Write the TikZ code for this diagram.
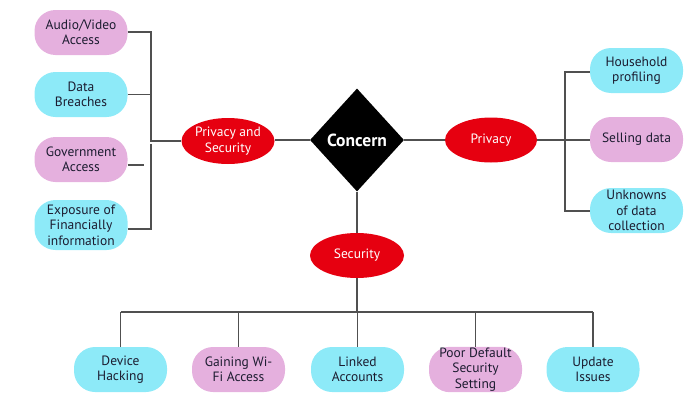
\documentclass[tikz,border=0pt]{standalone}
\usepackage{fontspec}
\setmainfont{PT Sans}
\usetikzlibrary{shapes.geometric}
\definecolor{pinkbox}{HTML}{E5B0DE}
\definecolor{cyanbox}{HTML}{8DEAF8}
\definecolor{redoval}{HTML}{E60010}
\definecolor{wire}{HTML}{505050}
\definecolor{ink}{HTML}{1C1C30}
\tikzset{
  pill/.style={rectangle, rounded corners=21pt, minimum width=93pt, minimum height=45pt,
    inner sep=1pt, align=center, text=ink, font=\fontsize{13.5}{15.5}\selectfont},
  pinkpill/.style={pill, fill=pinkbox},
  cyanpill/.style={pill, fill=cyanbox},
  topic/.style={ellipse, fill=redoval, text=white, minimum width=93pt, minimum height=46pt,
    inner sep=0pt, align=center, font=\fontsize{13.5}{15.5}\selectfont},
  hub/.style={diamond, fill=black, text=white, minimum width=94pt, minimum height=103pt,
    inner sep=0pt},
  link/.style={draw=wire, line width=1.1pt}
}
\begin{document}
\begin{tikzpicture}[x=1pt,y=-1pt]
\useasboundingbox (0,0) rectangle (695,399);

% central hub and the three topics
\node[hub] (concern) at (357,140) {};
\node[text=white, font=\fontsize{17.5}{20}\bfseries\selectfont] (concernlabel) at (357,140) {Concern};
\node[topic] (ps) at (228,141) {Privacy and\\Security};
\node[topic, minimum width=92pt, minimum height=45pt] (privacy) at (491,140) {Privacy};
\node[topic, minimum width=94pt, minimum height=45pt] (security) at (357,255.5) {Security};

% privacy and security items
\node[pinkpill] (audio) at (81,32.5) {Audio/Video\\Access};
\node[cyanpill] (breach) at (81,94.5) {Data\\Breaches};
\node[pinkpill] (gov) at (81,159.5) {Government\\Access};
\node[cyanpill, minimum height=50pt] (finance) at (81,225) {Exposure of\\Financially\\information};

% privacy items
\node[cyanpill] (household) at (636.5,70.5) {Household\\profiling};
\node[pinkpill] (selling) at (636.5,139.5) {Selling data};
\node[cyanpill] (unknowns) at (636.5,210.5) {Unknowns\\of data\\collection};

% security items
\node[cyanpill] (device) at (120.5,369.5) {Device\\Hacking};
\node[pinkpill] (wifi) at (238.5,369.5) {Gaining Wi-\\Fi Access};
\node[cyanpill] (linked) at (357.5,369.5) {Linked\\Accounts};
\node[pinkpill] (poor) at (475.5,369.5) {Poor Default\\Security\\Setting};
\node[cyanpill] (update) at (593,369.5) {Update\\Issues};

% hub to topics
\draw[link] (ps.east |- concern.west) -- (concern.west);
\draw[link] (concern.east) -- (privacy.west);
\draw[link] (concern.south) -- (security.north);

% left bracket
\coordinate (lbtop) at (151,32);
\coordinate (lbjoin) at (151,141);
\coordinate (lbup) at (151,144);
\coordinate (lbdown) at (151,229);
\coordinate (govend) at (144,165);
\draw[link] (audio.east |- lbtop) -- (lbtop) -- (lbjoin) -- (ps.west);
\draw[link] (breach.east) -- (breach.east -| lbtop);
\draw[link] (lbup) -- (lbdown) -- (lbdown -| finance.east);
\draw[link] (gov.east |- govend) -- (govend);

% right bracket
\coordinate (rbjoin) at (565,140);
\draw[link] (privacy.east) -- (rbjoin);
\draw[link] (household.west |- 0,72) -- (565,72) -- (565,211) -- (unknowns.west |- 0,211);
\draw[link] (rbjoin) -- (selling.west |- rbjoin);

% bottom bus
\coordinate (bus) at (357,312);
\draw[link] (security.south) -- (bus);
\draw[link] (device.north |- bus) -- (update.north |- bus);
\foreach \n in {device,wifi,linked,poor,update}
  \draw[link] (\n.north |- bus) -- (\n.north);
\end{tikzpicture}
\end{document}
